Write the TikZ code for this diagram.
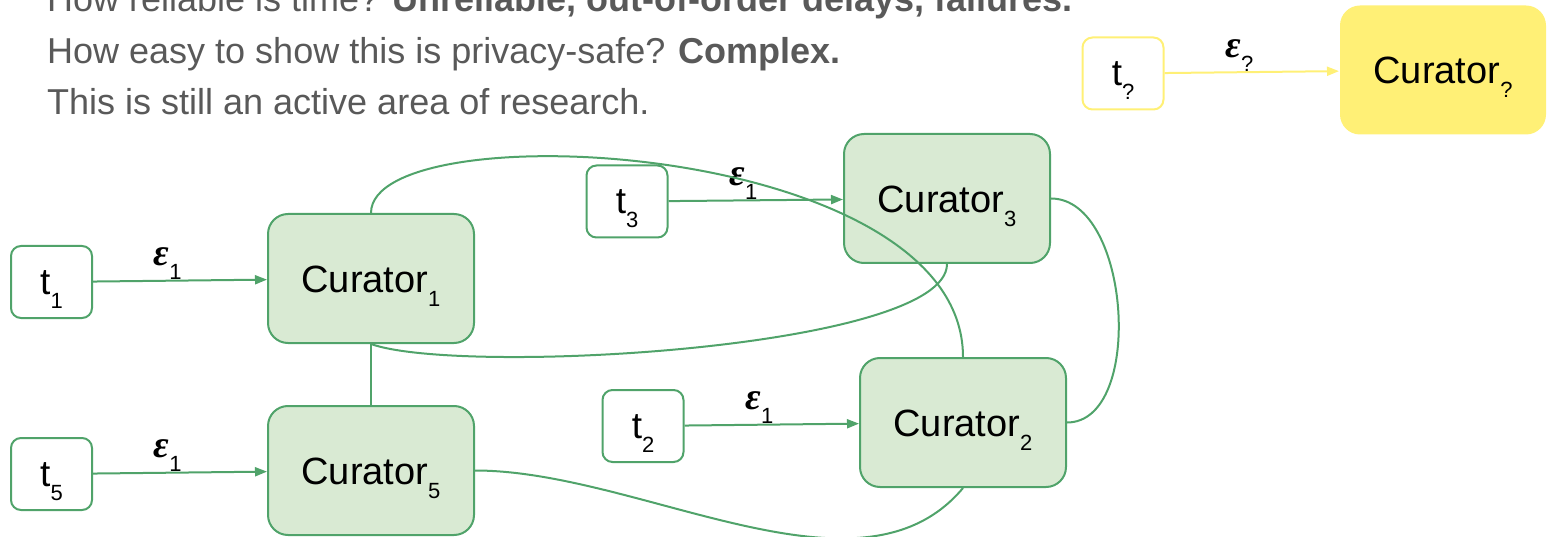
\documentclass[tikz,border=0pt]{standalone}
\usepackage{fontspec}
\setmainfont{Liberation Sans}
\newfontfamily\epsfont{Liberation Serif}
\usetikzlibrary{arrows.meta}
\definecolor{curline}{RGB}{80,163,106}
\definecolor{curfill}{RGB}{217,234,211}
\definecolor{askfill}{RGB}{255,240,118}
\definecolor{noteclr}{RGB}{89,89,89}
\newcommand{\lowidx}[1]{\raisebox{-14pt}{\fontsize{22}{22}\selectfont #1}}
\newcommand{\tlbl}[1]{t\lowidx{#1}\hspace{15pt}}
\newcommand{\epslbl}[1]{{\epsfont\bfseries\itshape\fontsize{38}{38}\selectfont ε}\lowidx{#1}}
\tikzset{
  curator/.style={draw=curline, fill=curfill, line width=2pt,
                  rounded corners=20pt, minimum width=206pt,
                  minimum height=129pt, inner sep=0pt, text height=28pt,
                  text depth=0pt, font=\fontsize{38}{40}\selectfont},
  askcur/.style ={curator, draw=none, fill=askfill},
  tbox/.style   ={draw=curline, fill=white, line width=2pt,
                  rounded corners=10pt, minimum width=81pt,
                  minimum height=72pt, inner sep=0pt, text height=25pt,
                  text depth=0pt, font=\fontsize{37}{40}\selectfont},
  asktbox/.style={tbox, draw=askfill},
  feed/.style   ={-{Triangle[length=12pt,width=9pt]}, line width=2pt,
                  curline},
  askfeed/.style={feed, askfill},
  link/.style   ={line width=2pt, curline},
  epsl/.style   ={anchor=south, inner sep=0pt, pos=0.43, text=black},
  note/.style   ={anchor=base west, inner sep=0pt, text=noteclr,
                  font=\fontsize{36}{40}\selectfont},
}
\begin{document}
\begin{tikzpicture}[x=1pt,y=-1pt]
  \useasboundingbox (0,0) rectangle (1547,537);
  % ---- notes on top
  \node[note] (line1) at (47,12)
    {How reliable is time? \textbf{Unreliable, out-of-order delays, failures.}};
  \node[note] (line2) at (47,64)
    {How easy to show this is privacy-safe? \textbf{Complex.}};
  \node[note] (line3) at (47,115) {This is still an active area of research.};
  % ---- curators and their inputs
  \node[curator] (c1) at (371,278.5) {Curator\lowidx{1}};
  \node[curator] (c5) at (371,470.5) {Curator\lowidx{5}};
  \node[curator] (c3) at (947,198.5) {Curator\lowidx{3}};
  \node[curator] (c2) at (963,422.5) {Curator\lowidx{2}};
  \node[tbox] (t1) at (51.5,282) {\tlbl{1}};
  \node[tbox] (t5) at (51.5,474) {\tlbl{5}};
  \node[tbox] (t3) at (627,201.5) {\tlbl{3}};
  \node[tbox] (t2) at (643,426) {\tlbl{2}};
  \draw[feed] (t1) -- (c1) node[epsl] {\epslbl{1}};
  \draw[feed] (t5) -- (c5) node[epsl] {\epslbl{1}};
  \draw[feed] (t3) -- (c3) node[epsl] {\epslbl{1}};
  \draw[feed] (t2) -- (c2) node[epsl] {\epslbl{1}};
  % ---- links between curators
  \draw[link] (c1.south) -- (c5.north);
  \draw[link] (c1.north) .. controls +(0,-102) and +(0,-218) .. (c2.north);
  \draw[link] (c1.south) .. controls +(89,32) and +(0,85) .. (c3.south);
  \draw[link] (c3.east) .. controls +(80,0) and +(78,0) .. (c2.east);
  \draw[link] (c5.east) .. controls +(166,0) and +(-103,123) .. (c2.south);
  % ---- the unknown one
  \node[asktbox] (tq) at (1123,73.5) {\tlbl{?}};
  \node[askcur] (cq) at (1443,70) {Curator\lowidx{?}};
  \draw[askfeed] (tq) -- (cq) node[epsl] {\epslbl{?}};
\end{tikzpicture}
\end{document}
